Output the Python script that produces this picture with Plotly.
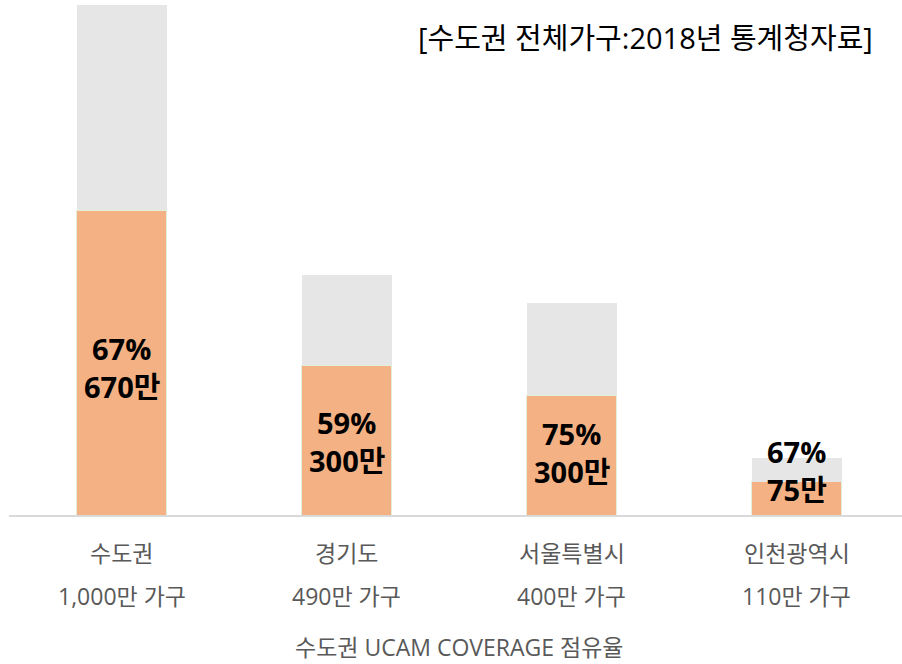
import plotly.graph_objects as go

regions = ["수도권", "경기도", "서울특별시", "인천광역시"]
households = ["1,000만 가구", "490만 가구", "400만 가구", "110만 가구"]
total_height = [1000, 470, 416, 112]      # bar heights
covered_height = [598, 294, 235, 65]
pct_labels = ["67%", "59%", "75%", "67%"]
count_labels = ["670만", "300만", "300만", "75만"]
label_y = [290, 145, 122, 88]
axis_title = "수도권 UCAM COVERAGE 점유율"
source_note = "[수도권 전체가구:2018년 통계청자료]"

x = list(range(len(regions)))
remainder = [t - c for t, c in zip(total_height, covered_height)]

FONT = "Open Sans, Noto Sans CJK KR"

fig = go.Figure()
fig.add_trace(go.Bar(x=x, y=covered_height, width=0.4,
                     marker=dict(color="#F4B183", line=dict(color="#E2F0D9", width=1)),
                     hoverinfo="skip"))
fig.add_trace(go.Bar(x=x, y=remainder, width=0.4, marker=dict(color="#E6E6E6", line=dict(width=0)),
                     hoverinfo="skip"))

for xi, p, c, ly in zip(x, pct_labels, count_labels, label_y):
    fig.add_annotation(x=xi, y=ly, yshift=19, text=p, showarrow=False,
                       font=dict(family=FONT, size=29, color="#000000", weight="bold"),
                       align="center", yanchor="middle")
    fig.add_annotation(x=xi, y=ly, yshift=-19, text=c, showarrow=False,
                       font=dict(family=FONT, size=29, color="#000000", weight="bold"),
                       align="center", yanchor="middle")

for xi, r, h in zip(x, regions, households):
    fig.add_annotation(x=xi, y=0, yshift=-38, text=r, showarrow=False, yanchor="middle",
                       font=dict(family=FONT, size=23, color="#595959"))
    fig.add_annotation(x=xi, y=0, yshift=-81, text=h, showarrow=False, yanchor="middle",
                       font=dict(family=FONT, size=23, color="#595959"))

fig.add_annotation(x=1.5, y=0, yshift=-132, text=axis_title, showarrow=False, yanchor="middle",
                   font=dict(family=FONT, size=23, color="#595959"))

fig.add_annotation(xref="paper", yref="paper", x=0.970, y=0.937, xanchor="right", yanchor="middle",
                   text=source_note, showarrow=False,
                   font=dict(family=FONT, size=29, color="#000000"))

fig.update_layout(
    width=902, height=664,
    barmode="stack",
    showlegend=False,
    plot_bgcolor="white", paper_bgcolor="white",
    margin=dict(l=9, r=0, t=5, b=149, autoexpand=False),
    font=dict(family=FONT),
    xaxis=dict(range=[-0.5, -0.5 + 893 / 225], showticklabels=False, automargin=False,
               showline=True, linecolor="#D9D9D9", linewidth=2, ticks="",
               showgrid=False, zeroline=False, fixedrange=True),
    yaxis=dict(range=[0, 1000], visible=False, showgrid=False, zeroline=False, automargin=False),
)

fig.write_html("out.html", config={"displayModeBar": False},
               post_script="document.body.style.margin='0';")
